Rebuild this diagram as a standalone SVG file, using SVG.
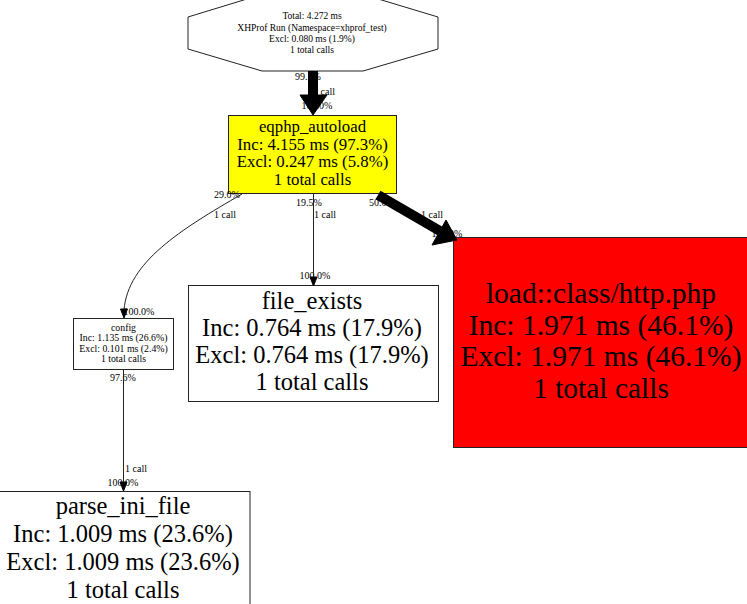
<svg xmlns="http://www.w3.org/2000/svg" width="747" height="604" viewBox="0 0 747 604">
<style>
text{font-family:"Liberation Serif","Times New Roman",serif;fill:#000;text-anchor:middle}
.node{stroke:#222;stroke-width:1}
.lbl{font-size:10px}
.thin{fill:none;stroke:#222;stroke-width:1}
.thick{fill:none;stroke:#000;stroke-width:10}
.head{fill:#000;stroke:#000}
</style>
<rect width="747" height="604" fill="#fff"/>
<g id="node-total">
<polygon class="node" fill="#fff" points="188,17 260,-5 365,-5 438,17 438,49 363,71 262,71 188,49"/>
<text x="312" y="19" font-size="9.5">Total: 4.272 ms</text>
<text x="312" y="31" font-size="9.5">XHProf Run (Namespace=xhprof_test)</text>
<text x="312" y="42" font-size="9.5">Excl: 0.080 ms (1.9%)</text>
<text x="312" y="53" font-size="9.5">1 total calls</text>
</g>
<g id="node-eqphp_autoload">
<rect class="node" fill="#ffff00" x="228.5" y="115.5" width="168" height="78"/>
<text x="312.5" y="132" font-size="16.8">eqphp_autoload</text>
<text x="312.5" y="149.5" font-size="16.8">Inc: 4.155 ms (97.3%)</text>
<text x="312.5" y="167" font-size="16.8">Excl: 0.247 ms (5.8%)</text>
<text x="312.5" y="184.5" font-size="16.8">1 total calls</text>
</g>
<g id="node-config">
<rect class="node" fill="#fff" x="73.5" y="318.5" width="100" height="51"/>
<text x="123.5" y="330.5" font-size="9.8">config</text>
<text x="123.5" y="340.5" font-size="9.8">Inc: 1.135 ms (26.6%)</text>
<text x="123.5" y="351.5" font-size="9.8">Excl: 0.101 ms (2.4%)</text>
<text x="123.5" y="361.5" font-size="9.8">1 total calls</text>
</g>
<g id="node-file_exists">
<rect class="node" fill="#fff" x="188.5" y="285.5" width="250" height="116"/>
<text x="312" y="309" font-size="24.5">file_exists</text>
<text x="312" y="336" font-size="24.5">Inc: 0.764 ms (17.9%)</text>
<text x="312" y="363" font-size="24.5">Excl: 0.764 ms (17.9%)</text>
<text x="312" y="390" font-size="24.5">1 total calls</text>
</g>
<g id="node-load_class_http">
<rect class="node" fill="#ff0000" x="453.5" y="237.5" width="294" height="210"/>
<text x="601" y="303" font-size="29.5">load::class/http.php</text>
<text x="601" y="334.5" font-size="29.5">Inc: 1.971 ms (46.1%)</text>
<text x="601" y="366" font-size="29.5">Excl: 1.971 ms (46.1%)</text>
<text x="601" y="397.5" font-size="29.5">1 total calls</text>
</g>
<g id="node-parse_ini_file">
<rect class="node" fill="#fff" x="-1" y="491.5" width="251" height="120"/>
<text x="123" y="514" font-size="24.5">parse_ini_file</text>
<text x="123" y="542" font-size="24.5">Inc: 1.009 ms (23.6%)</text>
<text x="123" y="570" font-size="24.5">Excl: 1.009 ms (23.6%)</text>
<text x="123" y="598" font-size="24.5">1 total calls</text>
</g>
<g id="connectors">
<text class="lbl" x="308" y="80">99.7%</text>
<text class="lbl" x="324" y="95">1 call</text>
<text class="lbl" x="317" y="109">100.0%</text>
<line class="thick" x1="313" y1="71" x2="313" y2="95"/>
<polygon class="head" points="300,95 327,95 313,115"/>

<text class="lbl" x="227" y="198">29.0%</text>
<text class="lbl" x="225" y="218">1 call</text>
<text class="lbl" x="139" y="315">100.0%</text>
<path class="thin" d="M242,194 C180,230 128,262 124,310"/>
<polygon class="head" points="120.5,309 127.5,309 124,318"/>

<text class="lbl" x="309" y="206">19.5%</text>
<text class="lbl" x="325" y="218">1 call</text>
<text class="lbl" x="315" y="279">100.0%</text>
<line class="thin" x1="313.5" y1="194" x2="313.5" y2="277"/>
<polygon class="head" points="310,277 317,277 313.5,286"/>

<text class="lbl" x="382" y="206">50.0%</text>
<text class="lbl" x="432" y="218">1 call</text>
<text class="lbl" x="447" y="237">100.0%</text>
<line class="thick" x1="378" y1="195" x2="440" y2="231"/>
<polygon class="head" points="446,220 432,245 457,240"/>

<text class="lbl" x="123" y="381">97.6%</text>
<text class="lbl" x="136" y="472">1 call</text>
<text class="lbl" x="123" y="486">100.0%</text>
<line class="thin" x1="123.5" y1="370" x2="123.5" y2="482"/>
<polygon class="head" points="120,482 127,482 123.5,491"/>
</g>
</svg>
